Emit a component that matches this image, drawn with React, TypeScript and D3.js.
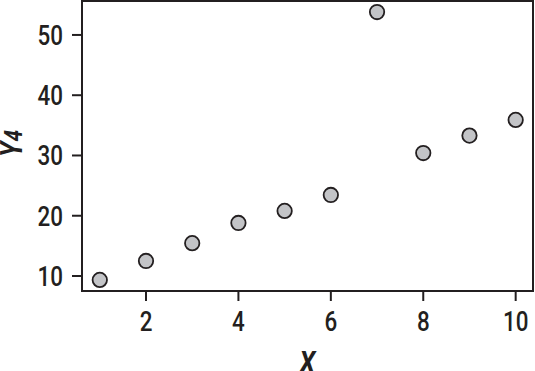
import React from "react";
import * as d3 from "d3";

const xValues = [1, 2, 3, 4, 5, 6, 7, 8, 9, 10];
const yValues = [9.35, 12.5, 15.45, 18.8, 20.8, 23.45, 53.8, 30.4, 33.3, 35.9];
const xTicks = [2, 4, 6, 8, 10];
const yTicks = [10, 20, 30, 40, 50];

const W = 535;
const H = 371;
const M = { left: 82, right: 2, top: 0, bottom: 80 };
const FONT = "Roboto, 'Liberation Sans', sans-serif";
const INK = "#231f20";
const SX = 0.8;

export default function App() {
  const x = d3.scaleLinear().domain([0.615, 10.375]).range([M.left, W - M.right]);
  const y = d3.scaleLinear().domain([7.51, 55.8]).range([H - M.bottom, M.top]);
  const pts = xValues.map((v, i) => ({ x: v, y: yValues[i] }));
  return (
    <svg
      width={W}
      height={H}
      style={{ position: "fixed", left: 0, top: 0, background: "#fff" }}
      fontFamily={FONT}
    >
      <rect
        x={M.left}
        y={M.top + 1}
        width={W - M.right - M.left}
        height={H - M.bottom - M.top - 1}
        fill="none"
        stroke={INK}
        strokeWidth={2}
      />
      {yTicks.map((t) => (
        <g key={"y" + t}>
          <line x1={M.left - 10} x2={M.left} y1={y(t)} y2={y(t)} stroke={INK} strokeWidth={2} />
          <text
            transform={`translate(${M.left - 19}, ${y(t) + 10}) scale(${SX}, 1)`}
            textAnchor="end"
            fontSize={28}
            fontWeight={500}
            fill={INK}
          >
            {t}
          </text>
        </g>
      ))}
      {xTicks.map((t) => (
        <g key={"x" + t}>
          <line x1={x(t)} x2={x(t)} y1={H - M.bottom} y2={H - M.bottom + 10} stroke={INK} strokeWidth={2} />
          <text
            transform={`translate(${x(t)}, 331) scale(${SX}, 1)`}
            textAnchor="middle"
            fontSize={28}
            fontWeight={500}
            fill={INK}
          >
            {t}
          </text>
        </g>
      ))}
      {pts.map((p, i) => (
        <circle
          key={i}
          cx={x(p.x)}
          cy={y(p.y)}
          r={7.2}
          fill="#c3c4c7"
          stroke={INK}
          strokeWidth={1.8}
        />
      ))}
      <text
        transform={`translate(${(M.left + W - M.right) / 2}, 373) scale(${SX}, 1)`}
        textAnchor="middle"
        fontSize={32}
        fontWeight="bold"
        fontStyle="italic"
        fill={INK}
      >
        X
      </text>
      <text
        transform={`translate(22, ${(M.top + H - M.bottom) / 2 - 2}) rotate(-90) scale(${SX}, 1)`}
        textAnchor="middle"
        fontSize={32}
        fontWeight="bold"
        fontStyle="italic"
        fill={INK}
      >
        Y
        <tspan fontSize={26}>4</tspan>
      </text>
    </svg>
  );
}
